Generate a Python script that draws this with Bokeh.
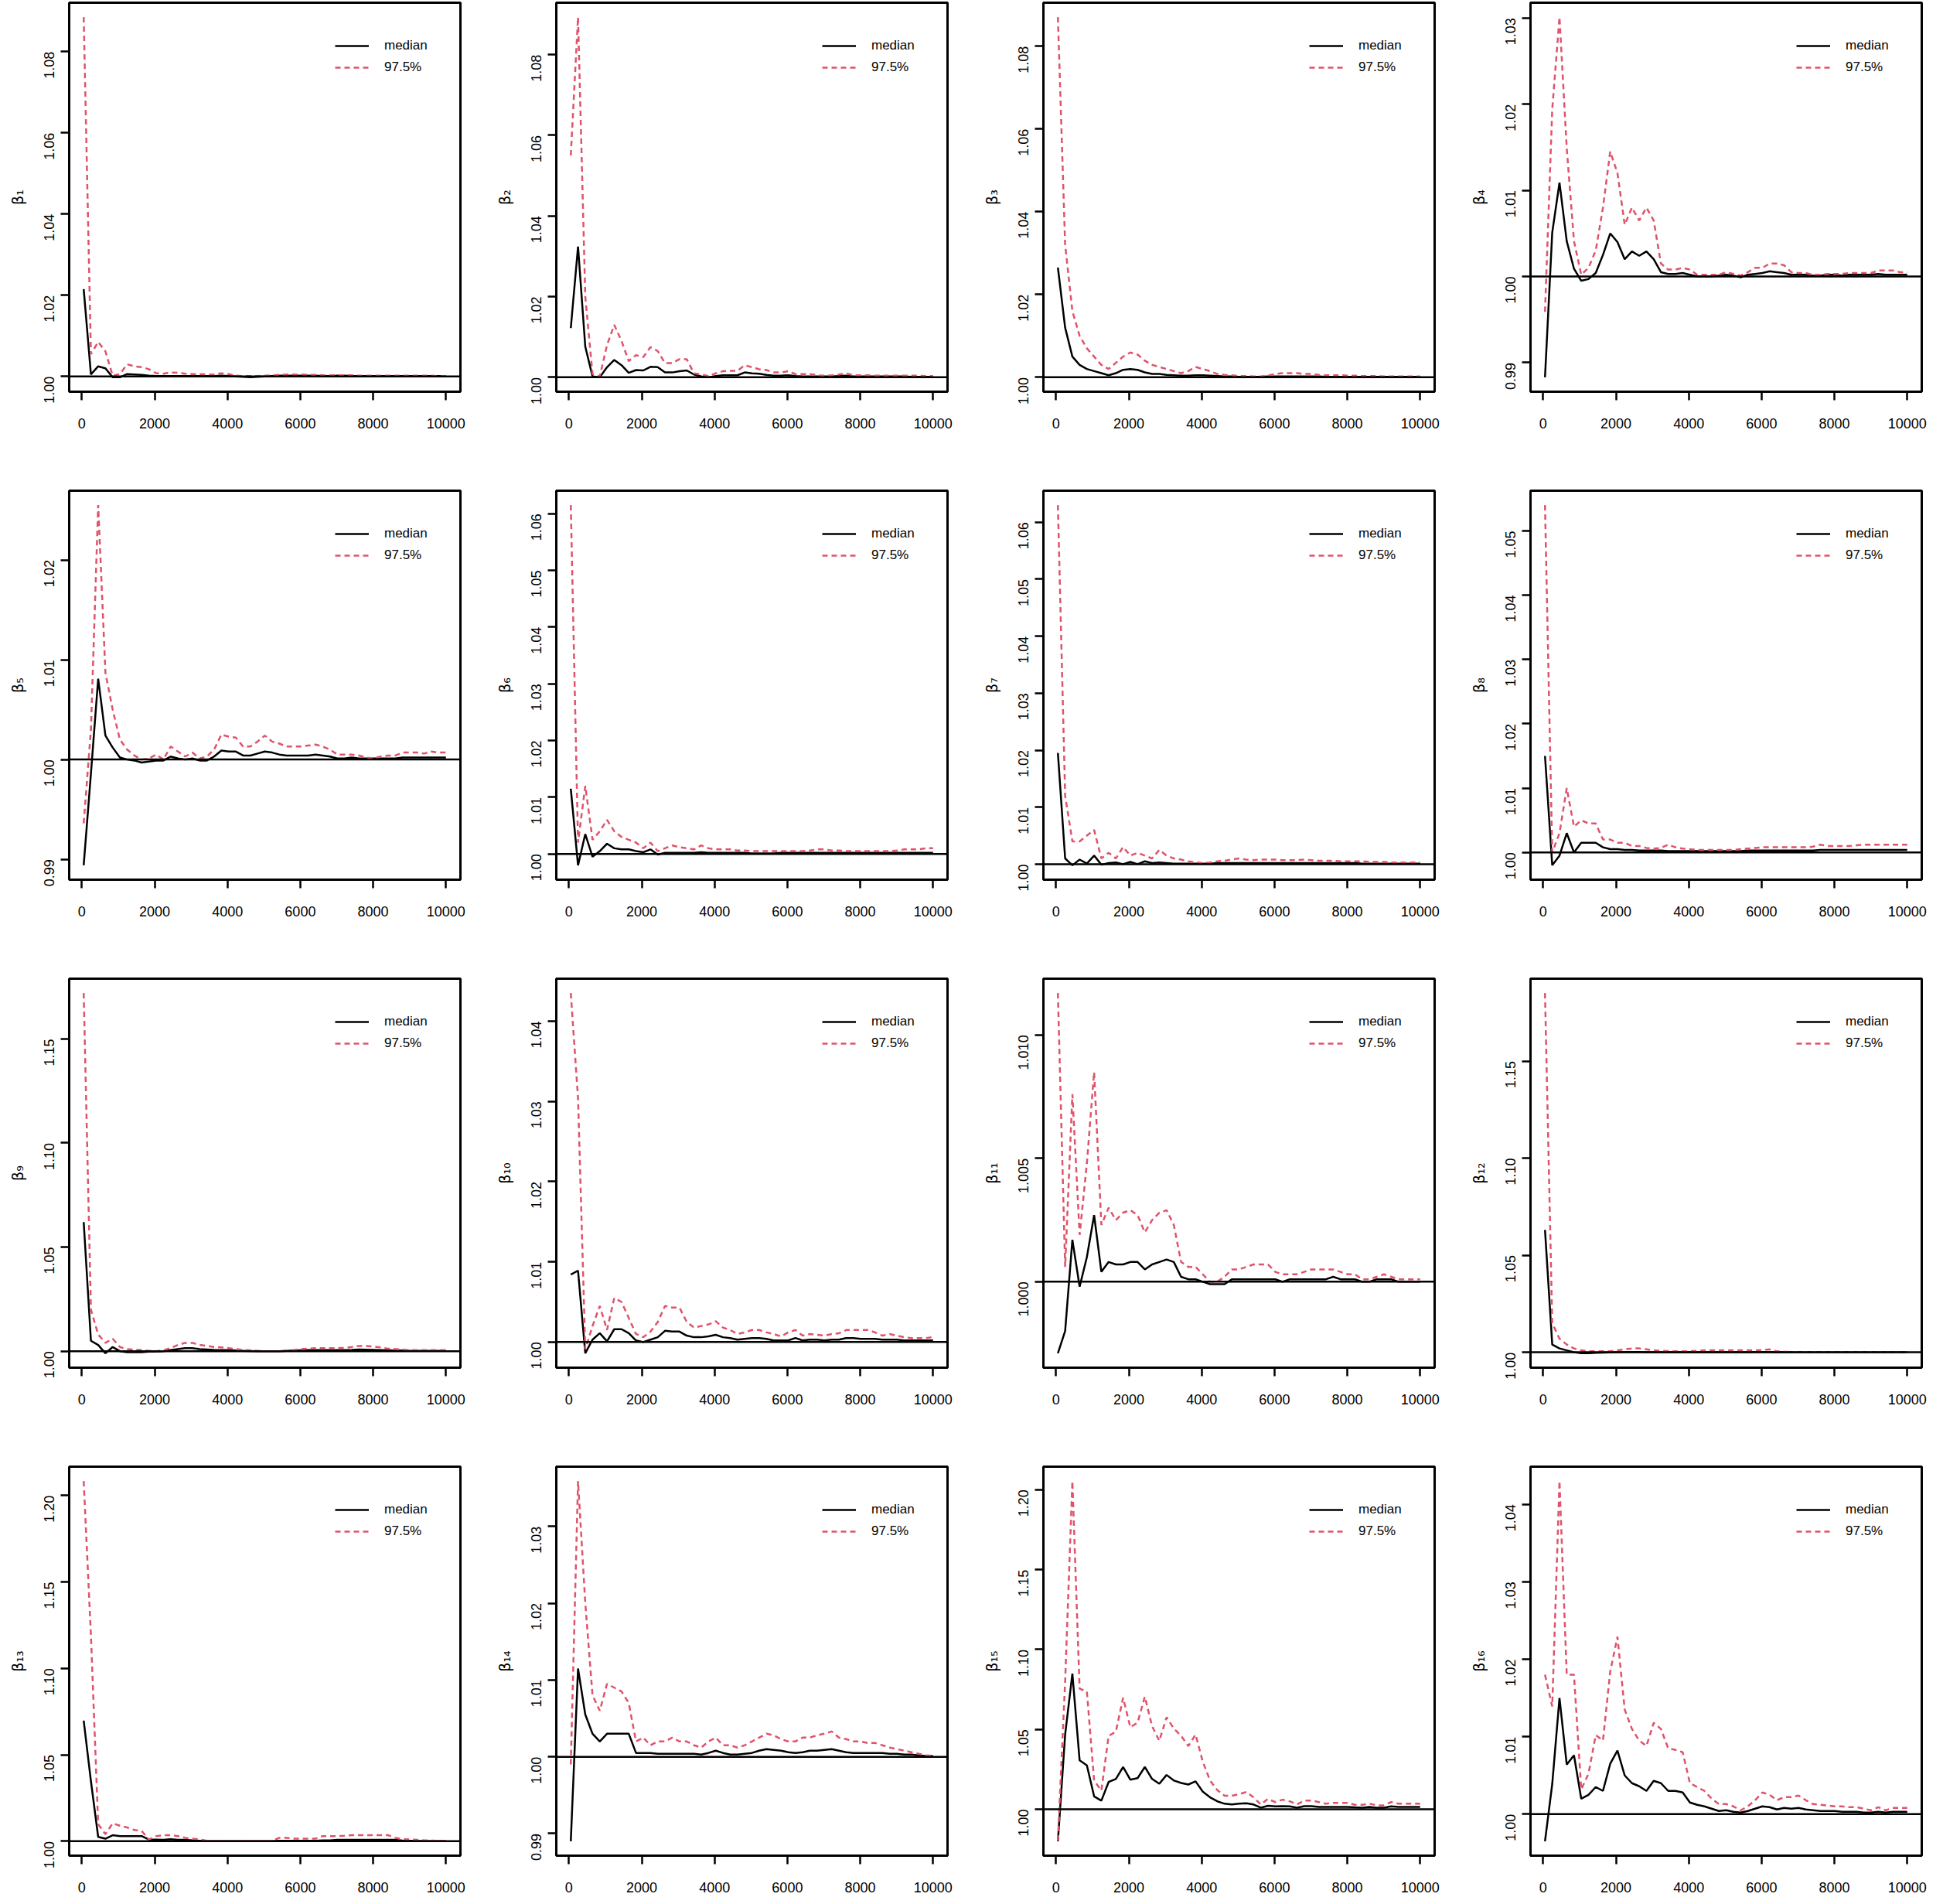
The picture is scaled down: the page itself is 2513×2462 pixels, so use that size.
import math
from bokeh.plotting import figure
from bokeh.models import Range1d, FixedTicker, PrintfTickFormatter, Span, Legend, LegendItem
from bokeh.layouts import column, row
from bokeh.embed import file_html
from bokeh.resources import INLINE

# iteration (x) values: end of each Gelman-Rubin bin
ITER = [51, 250, 449, 648, 847, 1046, 1245, 1444, 1643, 1842,
        2041, 2240, 2439, 2638, 2837, 3036, 3235, 3434, 3633, 3832,
        4031, 4230, 4429, 4628, 4827, 5026, 5225, 5424, 5623, 5822,
        6021, 6220, 6419, 6618, 6817, 7016, 7215, 7414, 7613, 7812,
        8011, 8210, 8409, 8608, 8807, 9006, 9205, 9404, 9603, 9802, 10000]

M1 = [1.0215, 1.0005, 1.0025, 1.0020, 0.9998, 0.9998, 1.0006, 1.0005, 1.0004, 1.0002,
      1.0001, 1.0001, 1.0001, 1.0001, 1.0001, 1.0001, 1.0001, 1.0001, 1.0001, 1.0002,
      1.0001, 1.0000, 0.9999, 0.9998, 0.9999, 1.0000, 1.0001, 1.0002, 1.0002, 1.0002,
      1.0002, 1.0002, 1.0002, 1.0001, 1.0001, 1.0002, 1.0002, 1.0001, 1.0001, 1.0001,
      1.0001, 1.0001, 1.0001, 1.0001, 1.0001, 1.0001, 1.0001, 1.0001, 1.0001, 1.0001, 1.0001]
U1 = [1.0885, 1.0055, 1.0085, 1.0062, 1.0002, 1.0006, 1.0030, 1.0025, 1.0023, 1.0018,
      1.0008, 1.0007, 1.0010, 1.0009, 1.0007, 1.0006, 1.0006, 1.0005, 1.0005, 1.0008,
      1.0006, 1.0002, 1.0001, 1.0001, 1.0001, 1.0002, 1.0003, 1.0004, 1.0005, 1.0005,
      1.0005, 1.0004, 1.0004, 1.0003, 1.0003, 1.0003, 1.0003, 1.0003, 1.0002, 1.0002,
      1.0002, 1.0002, 1.0002, 1.0002, 1.0002, 1.0002, 1.0002, 1.0002, 1.0002, 1.0001, 1.0001]

M2 = [1.0122, 1.0324, 1.0076, 1.0002, 1.0000, 1.0025, 1.0043, 1.0030, 1.0011, 1.0018,
      1.0017, 1.0026, 1.0025, 1.0012, 1.0012, 1.0015, 1.0017, 1.0007, 1.0002, 1.0000,
      1.0003, 1.0005, 1.0005, 1.0005, 1.0012, 1.0010, 1.0009, 1.0006, 1.0004, 1.0004,
      1.0005, 1.0003, 1.0002, 1.0002, 1.0002, 1.0002, 1.0002, 1.0003, 1.0004, 1.0002,
      1.0002, 1.0002, 1.0002, 1.0002, 1.0002, 1.0002, 1.0002, 1.0001, 1.0001, 1.0001, 1.0001]
U2 = [1.0550, 1.0893, 1.0200, 1.0008, 1.0002, 1.0080, 1.0130, 1.0090, 1.0040, 1.0055,
      1.0050, 1.0075, 1.0065, 1.0035, 1.0035, 1.0045, 1.0045, 1.0010, 1.0007, 1.0003,
      1.0010, 1.0015, 1.0016, 1.0016, 1.0030, 1.0025, 1.0020, 1.0018, 1.0012, 1.0012,
      1.0015, 1.0008, 1.0008, 1.0008, 1.0005, 1.0004, 1.0005, 1.0007, 1.0010, 1.0005,
      1.0005, 1.0005, 1.0004, 1.0004, 1.0004, 1.0004, 1.0004, 1.0004, 1.0004, 1.0003, 1.0003]

M3 = [1.0265, 1.0120, 1.0050, 1.0030, 1.0020, 1.0015, 1.0010, 1.0005, 1.0010, 1.0018,
      1.0020, 1.0018, 1.0012, 1.0008, 1.0008, 1.0006, 1.0005, 1.0004, 1.0004, 1.0005,
      1.0005, 1.0004, 1.0003, 1.0002, 1.0002, 1.0001, 1.0001, 1.0001, 1.0001, 1.0002,
      1.0002, 1.0002, 1.0002, 1.0002, 1.0002, 1.0002, 1.0002, 1.0001, 1.0001, 1.0001,
      1.0001, 1.0001, 1.0001, 1.0001, 1.0001, 1.0001, 1.0001, 1.0001, 1.0001, 1.0001, 1.0001]
U3 = [1.0870, 1.0320, 1.0160, 1.0100, 1.0070, 1.0050, 1.0030, 1.0020, 1.0035, 1.0050,
      1.0060, 1.0055, 1.0040, 1.0030, 1.0025, 1.0020, 1.0015, 1.0010, 1.0015, 1.0025,
      1.0020, 1.0015, 1.0008, 1.0006, 1.0005, 1.0003, 1.0003, 1.0002, 1.0002, 1.0004,
      1.0008, 1.0010, 1.0010, 1.0010, 1.0008, 1.0008, 1.0006, 1.0005, 1.0005, 1.0005,
      1.0004, 1.0004, 1.0003, 1.0003, 1.0003, 1.0002, 1.0002, 1.0002, 1.0002, 1.0002, 1.0002]

M4 = [0.9883, 1.0051, 1.0109, 1.0041, 1.0009, 0.9995, 0.9997, 1.0004, 1.0025, 1.0050,
      1.0040, 1.0020, 1.0029, 1.0024, 1.0029, 1.0020, 1.0005, 1.0003, 1.0003, 1.0004,
      1.0002, 1.0000, 1.0000, 1.0000, 1.0001, 1.0002, 1.0001, 0.9999, 1.0002, 1.0003,
      1.0004, 1.0006, 1.0005, 1.0004, 1.0002, 1.0002, 1.0002, 1.0001, 1.0001, 1.0002,
      1.0002, 1.0001, 1.0002, 1.0002, 1.0002, 1.0002, 1.0003, 1.0002, 1.0002, 1.0002, 1.0002]
U4 = [0.9959, 1.0194, 1.0301, 1.0149, 1.0041, 1.0002, 1.0010, 1.0030, 1.0080, 1.0145,
      1.0120, 1.0060, 1.0080, 1.0065, 1.0080, 1.0065, 1.0015, 1.0008, 1.0008, 1.0010,
      1.0008, 1.0002, 1.0002, 1.0002, 1.0002, 1.0005, 1.0003, 1.0001, 1.0005, 1.0010,
      1.0010, 1.0015, 1.0015, 1.0013, 1.0005, 1.0004, 1.0004, 1.0002, 1.0002, 1.0003,
      1.0003, 1.0003, 1.0004, 1.0004, 1.0004, 1.0004, 1.0007, 1.0007, 1.0007, 1.0005, 1.0005]

M5 = [0.9894, 0.9986, 1.0081, 1.0024, 1.0012, 1.0002, 1.0000, 0.9999, 0.9997, 0.9998,
      0.9999, 0.9999, 1.0003, 1.0001, 1.0000, 1.0001, 0.9999, 0.9999, 1.0003, 1.0009,
      1.0008, 1.0008, 1.0004, 1.0004, 1.0006, 1.0008, 1.0007, 1.0005, 1.0004, 1.0004,
      1.0004, 1.0004, 1.0005, 1.0004, 1.0003, 1.0001, 1.0001, 1.0002, 1.0001, 1.0001,
      1.0001, 1.0001, 1.0001, 1.0001, 1.0002, 1.0002, 1.0002, 1.0002, 1.0002, 1.0002, 1.0002]
U5 = [0.9936, 1.0030, 1.0255, 1.0087, 1.0050, 1.0020, 1.0010, 1.0004, 1.0000, 1.0001,
      1.0005, 1.0000, 1.0013, 1.0008, 1.0003, 1.0007, 1.0001, 1.0003, 1.0010, 1.0025,
      1.0023, 1.0022, 1.0013, 1.0013, 1.0018, 1.0024, 1.0018, 1.0016, 1.0013, 1.0013,
      1.0013, 1.0014, 1.0015, 1.0013, 1.0010, 1.0005, 1.0005, 1.0005, 1.0004, 1.0002,
      1.0001, 1.0003, 1.0004, 1.0004, 1.0007, 1.0007, 1.0007, 1.0006, 1.0008, 1.0007, 1.0007]

M6 = [1.0115, 0.9980, 1.0035, 0.9995, 1.0005, 1.0018, 1.0010, 1.0008, 1.0008, 1.0005,
      1.0003, 1.0008, 0.9999, 1.0002, 1.0002, 1.0002, 1.0002, 1.0002, 1.0003, 1.0002,
      1.0002, 1.0002, 1.0002, 1.0002, 1.0002, 1.0001, 1.0001, 1.0001, 1.0001, 1.0002,
      1.0002, 1.0002, 1.0002, 1.0002, 1.0002, 1.0002, 1.0002, 1.0002, 1.0002, 1.0002,
      1.0002, 1.0002, 1.0002, 1.0002, 1.0002, 1.0002, 1.0002, 1.0002, 1.0002, 1.0002, 1.0002]
U6 = [1.0615, 1.0020, 1.0120, 1.0025, 1.0040, 1.0060, 1.0040, 1.0030, 1.0025, 1.0020,
      1.0010, 1.0020, 1.0005, 1.0010, 1.0015, 1.0012, 1.0010, 1.0008, 1.0015, 1.0010,
      1.0008, 1.0008, 1.0008, 1.0006, 1.0006, 1.0005, 1.0005, 1.0005, 1.0005, 1.0005,
      1.0005, 1.0005, 1.0005, 1.0006, 1.0008, 1.0008, 1.0006, 1.0006, 1.0005, 1.0005,
      1.0005, 1.0005, 1.0005, 1.0005, 1.0005, 1.0006, 1.0008, 1.0008, 1.0008, 1.0010, 1.0010]

M7 = [1.0195, 1.0010, 0.9998, 1.0008, 1.0001, 1.0015, 0.9999, 1.0002, 1.0003, 1.0000,
      1.0004, 1.0000, 1.0005, 1.0002, 1.0003, 1.0002, 1.0001, 1.0001, 1.0001, 1.0001,
      1.0001, 1.0001, 1.0002, 1.0002, 1.0002, 1.0002, 1.0002, 1.0002, 1.0002, 1.0002,
      1.0002, 1.0002, 1.0002, 1.0002, 1.0002, 1.0002, 1.0002, 1.0002, 1.0002, 1.0002,
      1.0002, 1.0002, 1.0001, 1.0001, 1.0001, 1.0001, 1.0001, 1.0001, 1.0001, 1.0001, 1.0001]
U7 = [1.0630, 1.0120, 1.0040, 1.0040, 1.0050, 1.0060, 1.0010, 1.0020, 1.0010, 1.0030,
      1.0015, 1.0020, 1.0015, 1.0010, 1.0025, 1.0015, 1.0010, 1.0008, 1.0005, 1.0003,
      1.0002, 1.0003, 1.0005, 1.0006, 1.0008, 1.0010, 1.0008, 1.0007, 1.0008, 1.0008,
      1.0008, 1.0007, 1.0007, 1.0007, 1.0008, 1.0007, 1.0006, 1.0006, 1.0006, 1.0005,
      1.0005, 1.0005, 1.0005, 1.0004, 1.0004, 1.0004, 1.0003, 1.0003, 1.0003, 1.0003, 1.0003]

M8 = [1.0150, 0.9980, 0.9995, 1.0030, 1.0000, 1.0015, 1.0015, 1.0015, 1.0008, 1.0005,
      1.0005, 1.0004, 1.0004, 1.0003, 1.0003, 1.0003, 1.0003, 1.0002, 1.0002, 1.0002,
      1.0002, 1.0002, 1.0002, 1.0002, 1.0002, 1.0002, 1.0002, 1.0002, 1.0003, 1.0003,
      1.0003, 1.0003, 1.0003, 1.0003, 1.0003, 1.0003, 1.0003, 1.0003, 1.0004, 1.0004,
      1.0004, 1.0004, 1.0004, 1.0004, 1.0004, 1.0004, 1.0004, 1.0004, 1.0004, 1.0004, 1.0004]
U8 = [1.0540, 1.0000, 1.0030, 1.0100, 1.0040, 1.0050, 1.0045, 1.0045, 1.0020, 1.0020,
      1.0015, 1.0015, 1.0010, 1.0010, 1.0007, 1.0006, 1.0007, 1.0012, 1.0008, 1.0006,
      1.0005, 1.0004, 1.0004, 1.0004, 1.0004, 1.0004, 1.0004, 1.0005, 1.0006, 1.0007,
      1.0008, 1.0008, 1.0008, 1.0008, 1.0008, 1.0008, 1.0008, 1.0009, 1.0012, 1.0010,
      1.0010, 1.0010, 1.0010, 1.0011, 1.0012, 1.0012, 1.0012, 1.0012, 1.0012, 1.0012, 1.0012]

M9 = [1.0620, 1.0050, 1.0030, 0.9990, 1.0020, 1.0000, 0.9995, 0.9995, 0.9995, 0.9998,
      0.9998, 1.0000, 1.0005, 1.0010, 1.0015, 1.0015, 1.0010, 1.0008, 1.0006, 1.0005,
      1.0005, 1.0003, 1.0002, 1.0001, 1.0000, 1.0000, 1.0000, 1.0000, 1.0002, 1.0003,
      1.0004, 1.0005, 1.0005, 1.0005, 1.0005, 1.0005, 1.0005, 1.0006, 1.0008, 1.0007,
      1.0006, 1.0005, 1.0004, 1.0003, 1.0003, 1.0002, 1.0002, 1.0002, 1.0002, 1.0002, 1.0002]
U9 = [1.1720, 1.0200, 1.0080, 1.0040, 1.0060, 1.0020, 1.0010, 1.0008, 1.0005, 1.0002,
      1.0000, 1.0005, 1.0015, 1.0030, 1.0040, 1.0040, 1.0030, 1.0025, 1.0020, 1.0018,
      1.0015, 1.0010, 1.0006, 1.0004, 1.0002, 1.0000, 1.0000, 1.0000, 1.0003, 1.0006,
      1.0010, 1.0012, 1.0015, 1.0015, 1.0015, 1.0015, 1.0016, 1.0020, 1.0025, 1.0025,
      1.0022, 1.0018, 1.0012, 1.0010, 1.0008, 1.0005, 1.0005, 1.0005, 1.0005, 1.0005, 1.0005]

M10 = [1.0084, 1.0089, 0.9986, 1.0003, 1.0011, 1.0001, 1.0016, 1.0016, 1.0011, 1.0002,
       1.0000, 1.0003, 1.0006, 1.0014, 1.0013, 1.0013, 1.0008, 1.0006, 1.0006, 1.0007,
       1.0009, 1.0006, 1.0005, 1.0003, 1.0004, 1.0005, 1.0005, 1.0004, 1.0002, 1.0002,
       1.0002, 1.0005, 1.0002, 1.0003, 1.0003, 1.0002, 1.0003, 1.0003, 1.0005, 1.0005,
       1.0004, 1.0004, 1.0004, 1.0003, 1.0003, 1.0003, 1.0002, 1.0002, 1.0002, 1.0002, 1.0002]
U10 = [1.0435, 1.0304, 0.9991, 1.0020, 1.0045, 1.0015, 1.0055, 1.0050, 1.0030, 1.0010,
       1.0006, 1.0013, 1.0025, 1.0045, 1.0043, 1.0043, 1.0025, 1.0018, 1.0020, 1.0022,
       1.0026, 1.0018, 1.0015, 1.0010, 1.0012, 1.0015, 1.0015, 1.0012, 1.0010, 1.0007,
       1.0012, 1.0015, 1.0008, 1.0010, 1.0009, 1.0008, 1.0010, 1.0011, 1.0015, 1.0015,
       1.0015, 1.0015, 1.0012, 1.0008, 1.0010, 1.0008, 1.0006, 1.0005, 1.0005, 1.0005, 1.0006]

M11 = [0.9971, 0.9980, 1.0017, 0.9998, 1.0010, 1.0027, 1.0004, 1.0008, 1.0007, 1.0007,
       1.0008, 1.0008, 1.0005, 1.0007, 1.0008, 1.0009, 1.0008, 1.0002, 1.0001, 1.0001,
       1.0000, 0.9999, 0.9999, 0.9999, 1.0001, 1.0001, 1.0001, 1.0001, 1.0001, 1.0001,
       1.0001, 1.0000, 1.0001, 1.0001, 1.0001, 1.0001, 1.0001, 1.0001, 1.0002, 1.0001,
       1.0001, 1.0001, 1.0000, 1.0000, 1.0001, 1.0001, 1.0001, 1.0000, 1.0000, 1.0000, 1.0000]
U11 = [1.0117, 1.0006, 1.0076, 1.0019, 1.0048, 1.0085, 1.0023, 1.0030, 1.0025, 1.0028,
       1.0029, 1.0027, 1.0020, 1.0025, 1.0028, 1.0029, 1.0023, 1.0008, 1.0006, 1.0006,
       1.0003, 1.0000, 1.0000, 1.0002, 1.0005, 1.0005, 1.0006, 1.0007, 1.0007, 1.0007,
       1.0004, 1.0003, 1.0003, 1.0003, 1.0004, 1.0005, 1.0005, 1.0005, 1.0005, 1.0004,
       1.0003, 1.0003, 1.0001, 1.0001, 1.0002, 1.0003, 1.0002, 1.0001, 1.0001, 1.0001, 1.0001]

M12 = [1.0630, 1.0040, 1.0020, 1.0010, 1.0000, 0.9995, 0.9995, 0.9997, 0.9998, 0.9999,
       1.0000, 1.0001, 1.0001, 1.0001, 1.0000, 1.0000, 1.0000, 1.0000, 1.0000, 1.0000,
       1.0000, 1.0000, 1.0000, 1.0000, 1.0000, 1.0000, 1.0000, 1.0000, 1.0000, 1.0001,
       1.0001, 1.0001, 1.0000, 1.0000, 1.0000, 1.0000, 1.0000, 1.0000, 1.0000, 1.0000,
       1.0000, 1.0000, 1.0000, 1.0000, 1.0000, 1.0000, 1.0000, 1.0000, 1.0000, 1.0000, 1.0000]
U12 = [1.1850, 1.0150, 1.0070, 1.0040, 1.0020, 1.0010, 1.0005, 1.0005, 1.0005, 1.0005,
       1.0010, 1.0015, 1.0020, 1.0020, 1.0015, 1.0010, 1.0008, 1.0006, 1.0005, 1.0005,
       1.0006, 1.0008, 1.0010, 1.0010, 1.0010, 1.0010, 1.0010, 1.0010, 1.0010, 1.0010,
       1.0012, 1.0015, 1.0005, 1.0003, 1.0002, 1.0001, 1.0001, 1.0001, 1.0001, 1.0001,
       1.0001, 1.0001, 1.0001, 1.0001, 1.0001, 1.0001, 1.0001, 1.0000, 1.0000, 1.0000, 1.0000]

M13 = [1.0698, 1.0347, 1.0025, 1.0015, 1.0035, 1.0030, 1.0030, 1.0030, 1.0030, 1.0010,
       1.0010, 1.0008, 1.0012, 1.0008, 1.0008, 1.0005, 1.0003, 1.0001, 1.0001, 1.0001,
       1.0001, 1.0001, 1.0001, 1.0001, 1.0001, 1.0001, 1.0001, 1.0003, 1.0003, 1.0003,
       1.0003, 1.0003, 1.0003, 1.0005, 1.0005, 1.0008, 1.0008, 1.0008, 1.0008, 1.0008,
       1.0008, 1.0008, 1.0008, 1.0008, 1.0004, 1.0003, 1.0002, 1.0001, 1.0001, 1.0001, 1.0001]
U13 = [1.2083, 1.1190, 1.0099, 1.0041, 1.0104, 1.0090, 1.0080, 1.0065, 1.0060, 1.0010,
       1.0030, 1.0035, 1.0035, 1.0030, 1.0020, 1.0015, 1.0010, 1.0003, 1.0002, 1.0002,
       1.0002, 1.0002, 1.0002, 1.0002, 1.0002, 1.0002, 1.0002, 1.0020, 1.0020, 1.0015,
       1.0015, 1.0015, 1.0015, 1.0030, 1.0030, 1.0030, 1.0032, 1.0035, 1.0035, 1.0035,
       1.0035, 1.0035, 1.0035, 1.0020, 1.0012, 1.0010, 1.0008, 1.0005, 1.0004, 1.0003, 1.0003]

M14 = [0.9890, 1.0115, 1.0055, 1.0030, 1.0020, 1.0030, 1.0030, 1.0030, 1.0030, 1.0005,
       1.0005, 1.0005, 1.0004, 1.0004, 1.0004, 1.0004, 1.0004, 1.0004, 1.0003, 1.0005,
       1.0008, 1.0005, 1.0003, 1.0003, 1.0004, 1.0005, 1.0008, 1.0010, 1.0009, 1.0008,
       1.0006, 1.0005, 1.0006, 1.0008, 1.0008, 1.0009, 1.0010, 1.0008, 1.0006, 1.0005,
       1.0005, 1.0005, 1.0005, 1.0005, 1.0004, 1.0004, 1.0003, 1.0003, 1.0002, 1.0001, 1.0001]
U14 = [0.9990, 1.0359, 1.0200, 1.0080, 1.0060, 1.0095, 1.0090, 1.0085, 1.0070, 1.0020,
       1.0025, 1.0015, 1.0020, 1.0020, 1.0025, 1.0020, 1.0020, 1.0015, 1.0012, 1.0020,
       1.0025, 1.0015, 1.0015, 1.0012, 1.0015, 1.0020, 1.0025, 1.0030, 1.0028, 1.0023,
       1.0020, 1.0020, 1.0025, 1.0025, 1.0028, 1.0030, 1.0033, 1.0025, 1.0023, 1.0020,
       1.0020, 1.0018, 1.0018, 1.0015, 1.0012, 1.0010, 1.0008, 1.0006, 1.0004, 1.0002, 1.0001]

M15 = [0.9800, 1.0468, 1.0849, 1.0306, 1.0275, 1.0081, 1.0054, 1.0171, 1.0190, 1.0265,
       1.0185, 1.0195, 1.0265, 1.0190, 1.0160, 1.0215, 1.0180, 1.0165, 1.0155, 1.0175,
       1.0110, 1.0075, 1.0050, 1.0035, 1.0030, 1.0035, 1.0038, 1.0030, 1.0010, 1.0022,
       1.0018, 1.0020, 1.0018, 1.0010, 1.0020, 1.0020, 1.0015, 1.0015, 1.0015, 1.0015,
       1.0015, 1.0012, 1.0010, 1.0015, 1.0010, 1.0010, 1.0018, 1.0015, 1.0015, 1.0015, 1.0015]
U15 = [0.9805, 1.0800, 1.2054, 1.0755, 1.0737, 1.0180, 1.0117, 1.0459, 1.0486, 1.0698,
       1.0513, 1.0543, 1.0705, 1.0520, 1.0428, 1.0576, 1.0505, 1.0460, 1.0396, 1.0468,
       1.0297, 1.0180, 1.0120, 1.0085, 1.0085, 1.0095, 1.0108, 1.0075, 1.0030, 1.0065,
       1.0045, 1.0060, 1.0050, 1.0030, 1.0055, 1.0055, 1.0045, 1.0035, 1.0040, 1.0040,
       1.0040, 1.0028, 1.0028, 1.0035, 1.0025, 1.0025, 1.0045, 1.0035, 1.0035, 1.0035, 1.0035]

M16 = [0.9965, 1.0039, 1.0150, 1.0064, 1.0076, 1.0020, 1.0025, 1.0035, 1.0030, 1.0065,
       1.0082, 1.0050, 1.0040, 1.0036, 1.0030, 1.0043, 1.0040, 1.0030, 1.0030, 1.0028,
       1.0015, 1.0012, 1.0010, 1.0007, 1.0004, 1.0005, 1.0003, 1.0002, 1.0004, 1.0007,
       1.0010, 1.0009, 1.0006, 1.0008, 1.0007, 1.0008, 1.0006, 1.0005, 1.0004, 1.0004,
       1.0004, 1.0003, 1.0003, 1.0003, 1.0002, 1.0002, 1.0003, 1.0002, 1.0003, 1.0003, 1.0003]
U16 = [1.0180, 1.0139, 1.0430, 1.0180, 1.0180, 1.0032, 1.0052, 1.0102, 1.0095, 1.0184,
       1.0229, 1.0135, 1.0110, 1.0095, 1.0088, 1.0118, 1.0110, 1.0085, 1.0083, 1.0080,
       1.0040, 1.0035, 1.0030, 1.0020, 1.0013, 1.0013, 1.0010, 1.0005, 1.0010, 1.0018,
       1.0028, 1.0025, 1.0018, 1.0022, 1.0022, 1.0024, 1.0018, 1.0013, 1.0012, 1.0011,
       1.0010, 1.0010, 1.0009, 1.0009, 1.0007, 1.0005, 1.0009, 1.0005, 1.0008, 1.0008, 1.0008]

MEDIANS = [M1, M2, M3, M4, M5, M6, M7, M8, M9, M10, M11, M12, M13, M14, M15, M16]
UPPERS = [U1, U2, U3, U4, U5, U6, U7, U8, U9, U10, U11, U12, U13, U14, U15, U16]

LABELS = ["β₁", "β₂", "β₃", "β₄", "β₅", "β₆", "β₇", "β₈",
          "β₉", "β₁₀", "β₁₁", "β₁₂", "β₁₃", "β₁₄", "β₁₅", "β₁₆"]

YTICKS = [
    [1.00, 1.02, 1.04, 1.06, 1.08],
    [1.00, 1.02, 1.04, 1.06, 1.08],
    [1.00, 1.02, 1.04, 1.06, 1.08],
    [0.99, 1.00, 1.01, 1.02, 1.03],
    [0.99, 1.00, 1.01, 1.02],
    [1.00, 1.01, 1.02, 1.03, 1.04, 1.05, 1.06],
    [1.00, 1.01, 1.02, 1.03, 1.04, 1.05, 1.06],
    [1.00, 1.01, 1.02, 1.03, 1.04, 1.05],
    [1.00, 1.05, 1.10, 1.15],
    [1.00, 1.01, 1.02, 1.03, 1.04],
    [1.000, 1.005, 1.010],
    [1.00, 1.05, 1.10, 1.15],
    [1.00, 1.05, 1.10, 1.15, 1.20],
    [0.99, 1.00, 1.01, 1.02, 1.03],
    [1.00, 1.05, 1.10, 1.15, 1.20],
    [1.00, 1.01, 1.02, 1.03, 1.04],
]
YFMT = ["%.2f"] * 10 + ["%.3f"] + ["%.2f"] * 5
XTICKS = [0, 2000, 4000, 6000, 8000, 10000]
SERIES_NAMES = ["median", "97.5%"]

FONT = "Liberation Sans"
RED = "#DF536B"
FRAME_W, FRAME_H = 506, 503


def make_panel(i, c, r):
    med, upp = MEDIANS[i], UPPERS[i]
    lo = min(1.0, min(med), min(upp))
    hi = max(1.0, max(med), max(upp))
    py = 0.04 * (hi - lo)
    px = 0.04 * (ITER[-1] - ITER[0])
    left = 89 if c == 0 else 97
    right = 12 if c == 3 else 27
    top = 3 if r == 0 else 11
    bottom = 46 if r == 3 else 117
    p = figure(frame_width=FRAME_W, frame_height=FRAME_H,
               x_range=Range1d(ITER[0] - px, ITER[-1] + px),
               y_range=Range1d(lo - py, hi + py),
               output_backend="svg", toolbar_location=None,
               min_border_left=left, min_border_right=right,
               min_border_top=top, min_border_bottom=bottom,
               background_fill_color="white", border_fill_color="white")
    p.outline_line_color = "black"
    p.outline_line_width = 3
    p.xgrid.visible = False
    p.ygrid.visible = False

    r1 = p.line(ITER, med, line_color="black", line_width=2.5)
    r2 = p.line(ITER, upp, line_color=RED, line_width=2.5, line_dash="7 5")
    p.add_layout(Span(location=1.0, dimension="width", line_color="black", line_width=2.5))

    for ax in (p.xaxis[0], p.yaxis[0]):
        ax.axis_line_color = None
        ax.major_tick_in = 0
        ax.major_tick_out = 11
        ax.major_tick_line_width = 2.5
        ax.major_tick_line_color = "black"
        ax.minor_tick_line_color = None
        ax.major_label_text_font = FONT
        ax.major_label_text_font_size = "18px"
        ax.major_label_text_color = "black"
    p.xaxis[0].ticker = FixedTicker(ticks=XTICKS, minor_ticks=[])
    p.xaxis[0].formatter = PrintfTickFormatter(format="%d")
    p.xaxis[0].major_label_standoff = 23
    p.yaxis[0].ticker = FixedTicker(ticks=YTICKS[i], minor_ticks=[])
    p.yaxis[0].formatter = PrintfTickFormatter(format=YFMT[i])
    p.yaxis[0].major_label_orientation = math.pi / 2
    p.yaxis[0].major_label_standoff = 15
    p.yaxis[0].axis_label = LABELS[i]
    p.yaxis[0].axis_label_text_font = "DejaVu Sans"
    p.yaxis[0].axis_label_text_font_size = "19px"
    p.yaxis[0].axis_label_text_font_style = "normal"
    p.yaxis[0].axis_label_text_color = "black"
    p.yaxis[0].axis_label_standoff = 14

    leg = Legend(items=[LegendItem(label=SERIES_NAMES[0], renderers=[r1]),
                        LegendItem(label=SERIES_NAMES[1], renderers=[r2])],
                 location=(344, 405), orientation="vertical",
                 border_line_alpha=0, background_fill_alpha=0,
                 padding=0, spacing=0, margin=0,
                 glyph_width=44, glyph_height=28, label_height=28,
                 label_standoff=20, label_text_font=FONT,
                 label_text_font_size="17px", label_text_color="black")
    p.add_layout(leg)
    return p


rows = []
for r in range(4):
    figs = [make_panel(r * 4 + c, c, r) for c in range(4)]
    rows.append(row(*figs, spacing=0))
layout = column(*rows, spacing=0)

open("out.html", "w").write(file_html(layout, INLINE))
